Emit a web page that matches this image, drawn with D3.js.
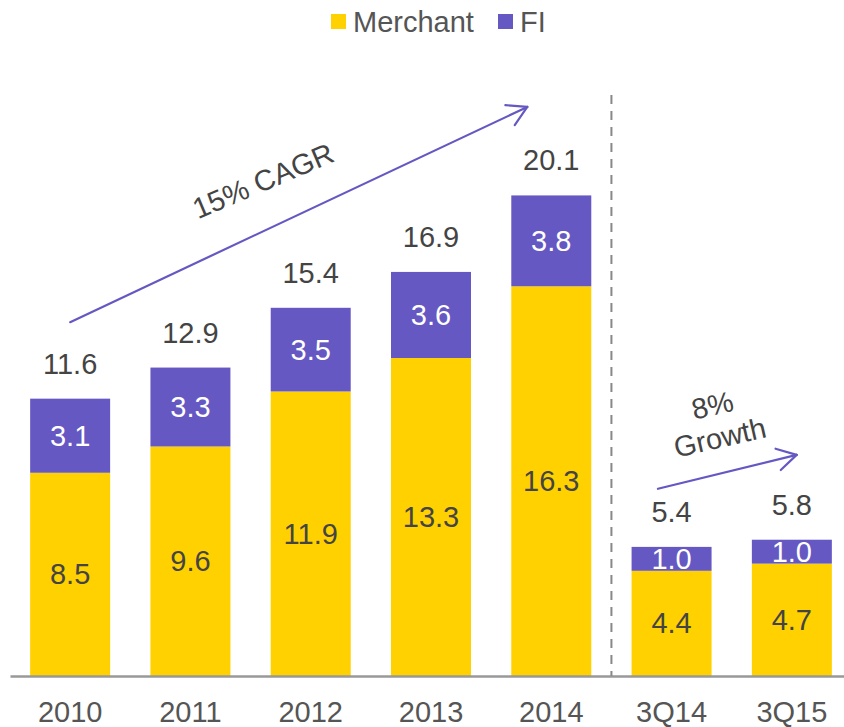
<!DOCTYPE html>
<html>
<head>
<meta charset="utf-8">
<script src="https://cdn.jsdelivr.net/npm/d3@7"></script>
<style>
  body { margin: 0; background: #fff; }
  svg { display: block; font-family: "Liberation Sans", Arial, sans-serif; }
</style>
</head>
<body>
<svg id="chart" width="844" height="727"></svg>
<script>
// data
const categories = ["2010", "2011", "2012", "2013", "2014", "3Q14", "3Q15"];
const merchant = [8.5, 9.6, 11.9, 13.3, 16.3, 4.4, 4.7];
const fi = [3.1, 3.3, 3.5, 3.6, 3.8, 1.0, 1.0];
const totals = [11.6, 12.9, 15.4, 16.9, 20.1, 5.4, 5.8];
const seriesNames = ["Merchant", "FI"];
const cagrLabel = "15% CAGR";
const growthLabel = ["8%", "Growth"];

const colors = { Merchant: "#FFD100", FI: "#6558C3" };
const textDark = "#444";
const fs = 29;

const svg = d3.select("#chart");

const x = d3.scaleBand()
  .domain(categories)
  .range([10, 852])
  .paddingInner(0.335)
  .paddingOuter(0.1675);

const y = d3.scaleLinear()
  .domain([0, 24.3])
  .range([676, 95]);

const rows = categories.map((c, i) => ({ cat: c, Merchant: merchant[i], FI: fi[i], total: totals[i] }));
const stack = d3.stack().keys(seriesNames)(rows);

// stacked bars
const layers = svg.append("g").selectAll("g")
  .data(stack).enter().append("g")
  .attr("fill", d => colors[d.key]);

layers.selectAll("rect")
  .data(d => d).enter().append("rect")
  .attr("x", d => x(d.data.cat))
  .attr("y", d => y(d[1]))
  .attr("width", x.bandwidth())
  .attr("height", d => y(d[0]) - y(d[1]));

// value labels inside segments
layers.each(function(layer) {
  d3.select(this).selectAll("text")
    .data(layer).enter().append("text")
    .attr("x", d => x(d.data.cat) + x.bandwidth() / 2)
    .attr("y", d => (y(d[0]) + y(d[1])) / 2 + 10)
    .attr("text-anchor", "middle")
    .attr("font-size", fs)
    .attr("fill", layer.key == "FI" ? "#fff" : textDark)
    .text(d => d.data[layer.key].toFixed(1));
});

// totals above bars
svg.append("g").selectAll("text")
  .data(rows).enter().append("text")
  .attr("x", d => x(d.cat) + x.bandwidth() / 2)
  .attr("y", d => y(d.Merchant + d.FI) - 25)
  .attr("text-anchor", "middle")
  .attr("font-size", fs)
  .attr("fill", textDark)
  .text(d => d.total.toFixed(1));

// x axis
const axis = svg.append("g")
  .attr("transform", "translate(0," + y(0) + ")")
  .call(d3.axisBottom(x).tickSize(0).tickSizeOuter(0));
axis.select(".domain").attr("stroke", "#999").attr("stroke-width", 2.5);
axis.selectAll("text")
  .attr("y", 46).attr("dy", 0)
  .attr("font-size", fs)
  .attr("font-family", "Liberation Sans, Arial, sans-serif")
  .attr("fill", "#555");

// dashed divider between years and quarters
const divX = (x("2014") + x.bandwidth() + x("3Q14")) / 2;
svg.append("line")
  .attr("x1", divX).attr("x2", divX)
  .attr("y1", y(24.3)).attr("y2", y(0))
  .attr("stroke", "#888")
  .attr("stroke-width", 2)
  .attr("stroke-dasharray", "9,7");

// arrows
function arrow(x1, y1, x2, y2) {
  const g = svg.append("g")
    .attr("stroke", colors.FI).attr("stroke-width", 2.2)
    .attr("fill", "none").attr("stroke-linecap", "round");
  g.append("line").attr("x1", x1).attr("y1", y1).attr("x2", x2).attr("y2", y2);
  const back = Math.atan2(y1 - y2, x1 - x2);
  [-Math.PI / 6, Math.PI / 6].forEach(a => {
    g.append("line")
      .attr("x1", x2).attr("y1", y2)
      .attr("x2", x2 + 22 * Math.cos(back + a))
      .attr("y2", y2 + 22 * Math.sin(back + a));
  });
}

const bw = x.bandwidth();
arrow(x("2010") + bw / 2, y(14.8), x("2014") + bw * 0.2, y(23.8));
arrow(x("3Q14") + bw * 0.33, y(7.83), x("3Q15") + bw * 0.56, y(9.25));

svg.append("text")
  .attr("transform", "translate(267,190) rotate(-23)")
  .attr("text-anchor", "middle")
  .attr("font-size", fs)
  .attr("fill", textDark)
  .text(cagrLabel);

const gl = svg.append("g").attr("transform", "translate(716,421) rotate(-13)");
gl.selectAll("text")
  .data(growthLabel).enter().append("text")
  .attr("x", 0)
  .attr("y", (d, i) => i * 33 - 6)
  .attr("text-anchor", "middle")
  .attr("font-size", fs)
  .attr("fill", textDark)
  .text(d => d);

// legend
const legendX = [331, 498];
const legend = svg.append("g").selectAll("g")
  .data(seriesNames).enter().append("g")
  .attr("transform", (d, i) => "translate(" + legendX[i] + ",14)");
legend.append("rect")
  .attr("width", 15).attr("height", 15)
  .attr("fill", d => colors[d]);
legend.append("text")
  .attr("x", 22).attr("y", 18)
  .attr("font-size", fs)
  .attr("fill", "#555")
  .text(d => d);
</script>
</body>
</html>
